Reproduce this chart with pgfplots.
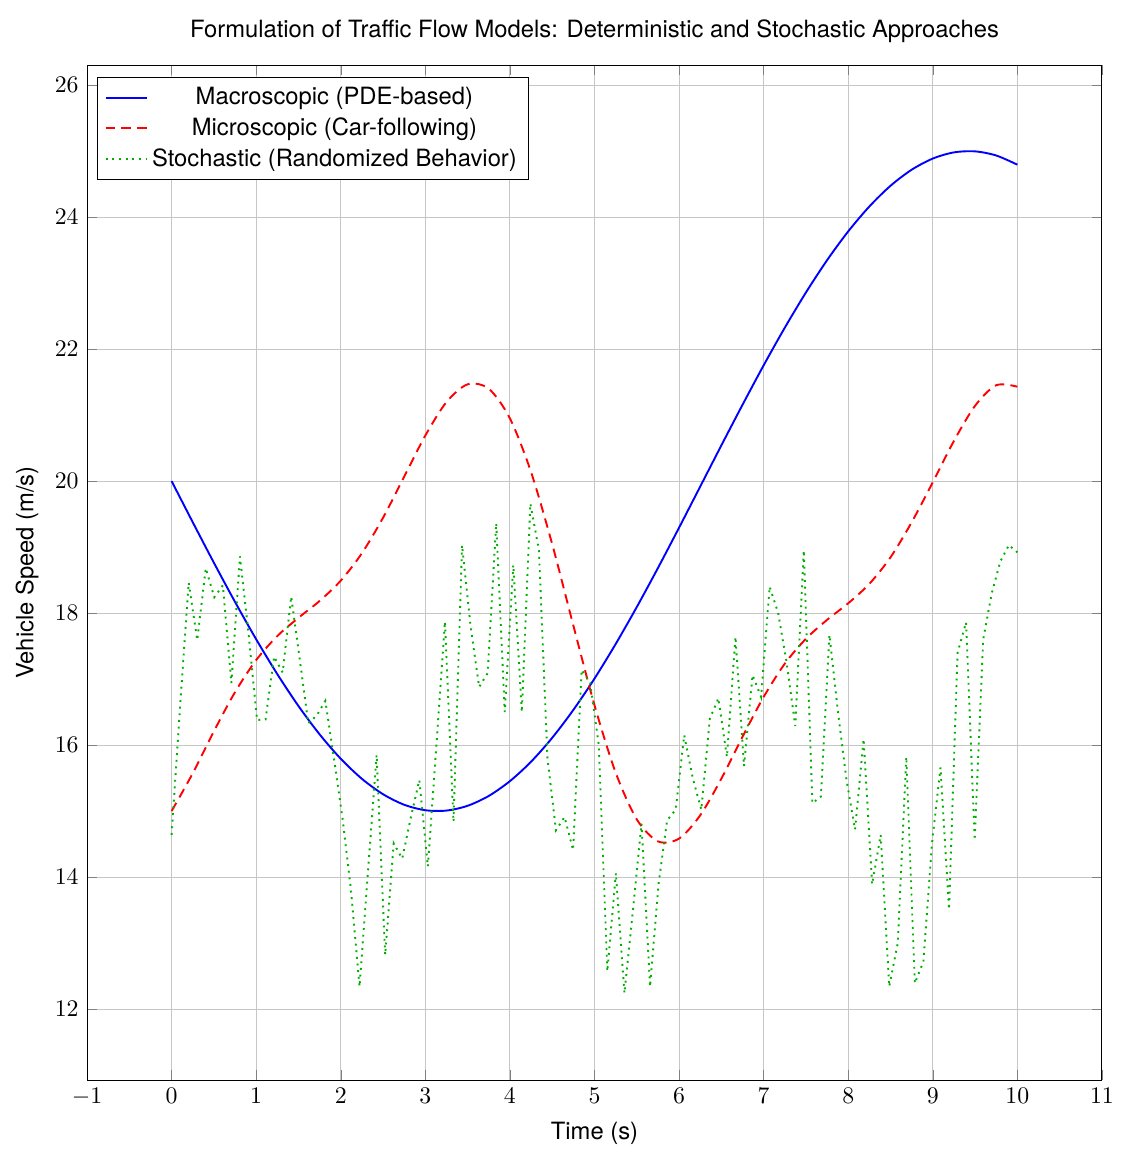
\documentclass[border=0pt]{standalone}
\usepackage{pgfplots}
\pgfplotsset{compat=1.18}
\usepackage{fontspec}
\setmainfont{TeX Gyre Heros}
\definecolor{stochgreen}{RGB}{0,175,0}
\begin{document}
\begin{tikzpicture}
\begin{axis}[
  width=15cm, height=15cm, scale only axis,
  xmin=-1, xmax=11, ymin=10.924, ymax=26.303,
  xtick={-1,0,...,11}, ytick={12,14,...,26},
  grid=major, grid style={gray!45},
  title={Formulation of Traffic Flow Models: Deterministic and Stochastic Approaches},
  xlabel={Time (s)}, ylabel={Vehicle Speed (m/s)},
  legend style={at={(0.01,0.988)}, anchor=north west, draw=black},
  legend cell align=center,
]
\addplot[blue, thick, smooth] coordinates {
(0,20) (0.25,19.3766) (0.5,18.763) (0.75,18.1687) (1,17.6029) (1.25,17.0745) (1.5,16.5918) (1.75,16.1623)
(2,15.7926) (2.25,15.4887) (2.5,15.2551) (2.75,15.0955) (3,15.0125) (3.25,15.0074) (3.5,15.0801) (3.75,15.2293)
(4,15.4535) (4.25,15.7477) (4.5,16.1097) (4.75,16.5326) (5,17.0076) (5.25,17.5304) (5.5,18.0917) (5.75,18.6824)
(6,19.2944) (6.25,19.9170) (6.5,20.541) (6.75,21.1553) (7,21.7539) (7.25,22.324) (7.5,22.8578) (7.75,23.347)
(8,23.784) (8.25,24.161) (8.5,24.475) (8.75,24.718) (9,24.8876) (9.25,24.981) (9.5,24.9965) (9.75,24.934) (10,24.7946)
};
\addlegendentry{Macroscopic (PDE-based)}
\addplot[red, thick, dash pattern=on 4pt off 2.6pt, smooth] coordinates {
(0,15) (0.25,15.5727) (0.5,16.2087) (0.75,16.8024) (1,17.2884) (1.25,17.6525) (1.5,17.9289) (1.75,18.184)
(2,18.4916) (2.25,18.907) (2.5,19.4445) (2.75,20.0674) (3,20.6906) (3.25,21.1975) (3.5,21.4664) (3.75,21.3997)
(4,20.9503) (4.25,20.1368) (4.5,19.0445) (4.75,17.812) (5,16.605) (5.25,15.5841) (5.5,14.874) (5.75,14.541)
(6,14.5829) (6.25,14.9358) (6.5,15.4904) (6.75,16.1248) (7,16.7289) (7.25,17.2331) (7.5,17.6104) (7.75,17.8975)
(8,18.1486) (8.25,18.443) (8.5,18.8446) (8.75,19.3753) (9,19.9824) (9.25,20.6086) (9.5,21.1414) (9.75,21.4527) (10,21.4302)
};
\addlegendentry{Microscopic (Car-following)}
\addplot[stochgreen, thick, dotted] coordinates {
(0.000,14.64) (0.101,16.6) (0.202,18.46) (0.303,17.59) (0.404,18.68) (0.505,18.24) (0.606,18.42) (0.707,16.94) (0.808,18.86) (0.909,17.7)
(1.010,16.38) (1.111,16.39) (1.212,17.34) (1.313,17.1) (1.414,18.25) (1.515,17.3) (1.616,16.33) (1.717,16.45) (1.818,16.67) (1.919,15.8)
(2.020,14.9) (2.121,13.8) (2.222,12.34) (2.323,14.1) (2.424,15.85) (2.525,12.82) (2.626,14.51) (2.727,14.28) (2.828,14.9) (2.929,15.47)
(3.030,14.16) (3.131,16.0) (3.232,17.87) (3.333,14.84) (3.434,19.03) (3.535,17.8) (3.636,16.88) (3.737,17.09) (3.838,19.36) (3.939,16.5)
(4.040,18.73) (4.141,16.5) (4.242,19.66) (4.343,18.95) (4.444,15.8) (4.545,14.71) (4.646,14.91) (4.747,14.41) (4.848,17.14) (4.949,16.94)
(5.051,16.0) (5.152,12.57) (5.253,14.06) (5.354,12.24) (5.455,13.5) (5.556,14.81) (5.657,12.34) (5.758,13.9) (5.859,14.86) (5.960,15.02)
(6.061,16.15) (6.162,15.5) (6.263,15.02) (6.364,16.4) (6.465,16.71) (6.566,15.82) (6.667,17.64) (6.768,15.68) (6.869,17.06) (6.970,16.73)
(7.071,18.40) (7.172,18.0) (7.273,17.24) (7.374,16.29) (7.475,18.95) (7.576,15.12) (7.677,15.22) (7.778,17.67) (7.879,16.5) (7.980,15.47)
(8.081,14.72) (8.182,16.09) (8.283,13.89) (8.384,14.64) (8.485,12.34) (8.586,13.0) (8.687,15.82) (8.788,12.39) (8.889,12.72) (8.990,14.5)
(9.091,15.66) (9.192,13.51) (9.293,17.4) (9.394,17.86) (9.495,14.56) (9.596,17.6) (9.697,18.3) (9.798,18.78) (9.899,19.03) (10.000,18.92)
};
\addlegendentry{Stochastic (Randomized Behavior)}
\end{axis}
\path (current axis.south west) ++(-36.6pt,-33.2pt) coordinate (bbA);
\path (current axis.north east) ++(5pt,27.4pt) coordinate (bbB);
\path[use as bounding box] (bbA) rectangle (bbB);
\end{tikzpicture}
\end{document}
